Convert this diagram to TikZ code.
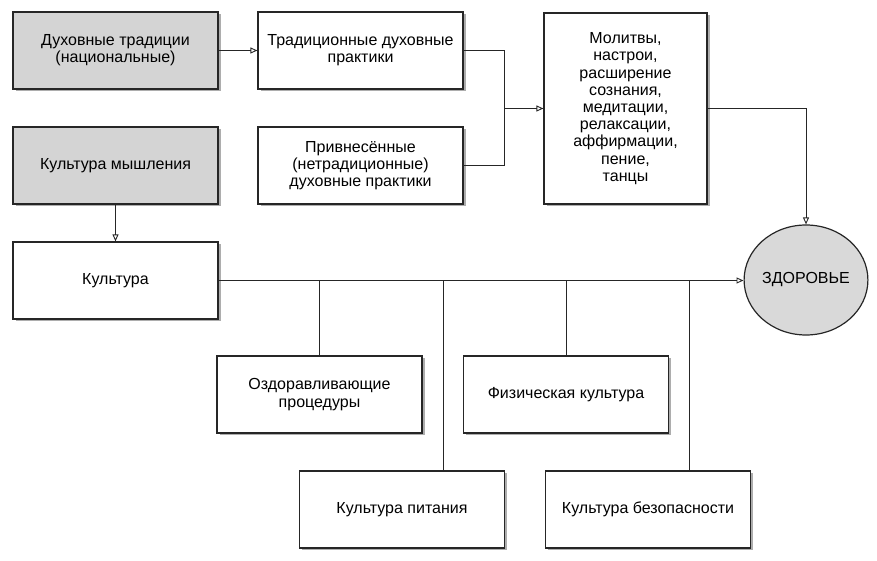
\documentclass[tikz,border=0pt]{standalone}
\usepackage{fontspec}
\setmainfont{Liberation Sans}
\usetikzlibrary{arrows.meta,shadows,shapes.geometric}
\begin{document}
\begin{tikzpicture}[x=1pt,y=1pt,
  box/.style={draw=black!85, line width=1.2pt, fill=white, minimum width=205pt, minimum height=77pt,
    align=center, inner sep=2pt, font=\fontsize{16}{17.2}\selectfont,
    drop shadow={shadow xshift=2.5pt, shadow yshift=-2.5pt, fill=black!40, opacity=0.8}},
  graybox/.style={box, fill=black!17},
  conn/.style={draw=black!85, line width=0.9pt},
  arr/.style={conn, -{Triangle[open, length=7pt, width=6pt]}}
]
\useasboundingbox (0,0) rectangle (877,561);
\node[graybox] (A) at (115.5,510.5) {Духовные традиции\\(национальные)};
\node[box] (B) at (360.5,510.5) {Традиционные духовные\\практики};
\node[graybox] (C) at (115.5,395.5) {Культура мышления};
\node[box] (D) at (360.5,395.5) {Привнесённые\\(нетрадиционные)\\духовные практики};
\node[box, minimum width=163pt, minimum height=191pt] (E) at (625.5,452.5)
  {Молитвы,\\настрои,\\расширение\\сознания,\\медитации,\\релаксации,\\аффирмации,\\пение,\\танцы};
\node[box] (F) at (115.5,280.5) {Культура};
\node[ellipse, draw=black!85, line width=1.2pt, fill=black!15, minimum width=116pt, minimum height=110pt,
  font=\fontsize{16}{17.2}\selectfont, inner sep=0pt] (Z) at (806,281) {ЗДОРОВЬЕ};
\node[box] (G) at (319.5,166.5) {Оздоравливающие\\процедуры};
\node[box] (H) at (566,166.5) {Физическая культура};
\node[box] (I) at (402,51.5) {Культура питания};
\node[box] (J) at (648,51.5) {Культура безопасности};

\draw[arr] (A.east) -- (B.west);
\coordinate (jn) at (504,452.5);
\draw[conn] (B.east) -| (jn);
\draw[conn] (D.east) -| (jn);
\draw[arr] (jn) -- (E.west);
\draw[arr] (E.east) -| (Z.north);
\draw[arr] (C.south) -- (F.north);
\draw[arr] (F.east) -- (F.east -| Z.west);
\draw[conn] (G.north) -- (G.north |- F.east);
\draw[conn] (H.north) -- (H.north |- F.east);
\coordinate (b2) at (443,280.5);
\coordinate (b4) at (689,280.5);
\draw[conn] (b2) -- (b2 |- I.north);
\draw[conn] (b4) -- (b4 |- J.north);
\end{tikzpicture}
\end{document}
